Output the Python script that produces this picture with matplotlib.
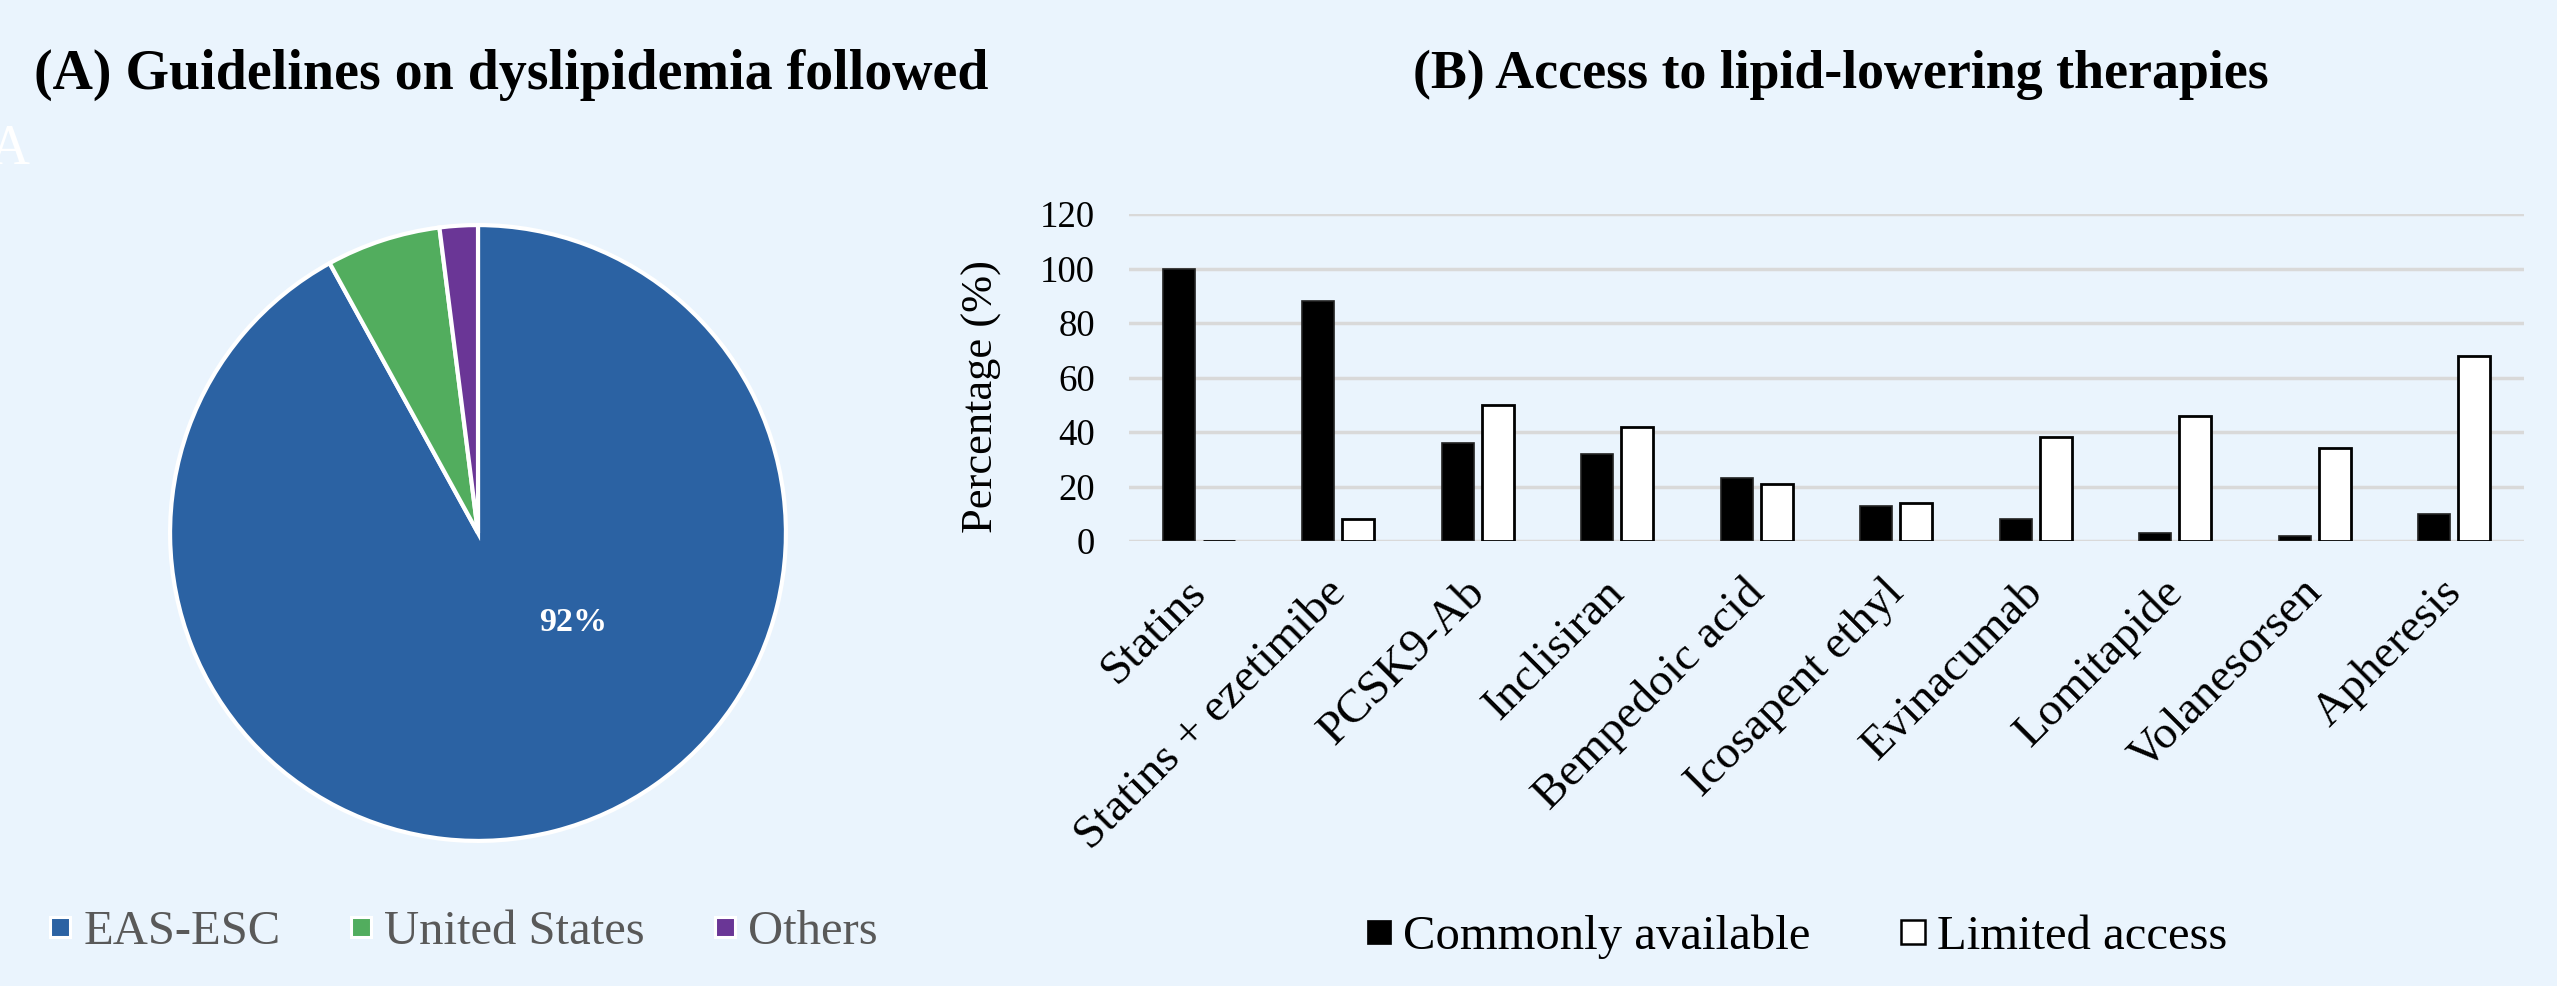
import matplotlib
matplotlib.use("Agg")
import matplotlib.pyplot as plt
import matplotlib.transforms as mtransforms
import numpy as np
from matplotlib.lines import Line2D

plt.rcParams['font.family'] = ['Liberation Serif', 'DejaVu Serif']

# ---- data ----
pie_labels = ["EAS-ESC", "United States", "Others"]
pie_values = [92, 6, 2]
pie_colors = ["#2b62a3", "#52ad5e", "#6a3696"]

therapies = ["Statins", "Statins + ezetimibe", "PCSK9-Ab", "Inclisiran",
             "Bempedoic acid", "Icosapent ethyl", "Evinacumab", "Lomitapide",
             "Volanesorsen", "Apheresis"]
commonly_available = [100, 88, 36, 32, 23, 13, 8, 3, 2, 10]
limited_access = [0, 8, 50, 42, 21, 14, 38, 46, 34, 68]
yticks = [0, 20, 40, 60, 80, 100, 120]

BG = "#eaf4fd"
W, H = 2557, 986
fig = plt.figure(figsize=(W / 100, H / 100), dpi=100, facecolor=BG)

# ---- (A) pie ----
cx, cy, r = 478, 533, 311
axp = fig.add_axes([(cx - r) / W, (H - cy - r) / H, 2 * r / W, 2 * r / H])
axp.set_facecolor(BG)
wedges, _ = axp.pie(pie_values, colors=pie_colors, startangle=90, counterclock=False,
                    radius=1, wedgeprops=dict(edgecolor="white", linewidth=3))
axp.set_xlim(-1.01, 1.01)
axp.set_ylim(-1.01, 1.01)
axp.set_aspect("equal")
axp.text(0.31, -0.29, f"{pie_values[0]}%", color="white", fontsize=24.5,
         fontweight="bold", ha="center", va="center")

fig.text(511 / W, 1 - 75 / H, "(A) Guidelines on dyslipidemia followed",
         fontsize=40.2, fontweight="bold", ha="center", va="center")
fig.text(-0.004, 1 - 150 / H, "A", color="white", fontsize=40, ha="left", va="center")

pie_handles = [Line2D([], [], linestyle="none", marker="s", markersize=15,
                      markerfacecolor=c, markeredgecolor="white", markeredgewidth=2.2)
               for c in pie_colors]
fig.legend(handles=pie_handles, labels=pie_labels, loc="center left",
           bbox_to_anchor=(48 / W, 1 - 932 / H), ncol=3, frameon=False,
           fontsize=35, handlelength=0.5, handletextpad=0.23,
           columnspacing=1.4, labelcolor="#595959", borderpad=0, borderaxespad=0)

# ---- (B) bars ----
left, right, top, bottom = 1129, 2524, 214, 541
axb = fig.add_axes([left / W, (H - bottom) / H, (right - left) / W, (bottom - top) / H])
axb.set_facecolor(BG)
x = np.arange(len(therapies))
bw = 0.23
off = 0.143
axb.bar(x - off, commonly_available, bw, color="black", edgecolor="#222222",
        linewidth=1.2, zorder=3, label="Commonly available")
axb.bar(x + off, limited_access, bw, color="white", edgecolor="black",
        linewidth=2, zorder=3, label="Limited access")
axb.set_ylim(0, 120)
axb.set_xlim(-0.5, len(therapies) - 0.5)
axb.set_yticks(yticks)
axb.yaxis.grid(True, color="#d9d9d9", linewidth=2.5, zorder=0)
axb.set_axisbelow(True)
for s in axb.spines.values():
    s.set_visible(False)
axb.tick_params(axis="y", length=0, labelsize=26.5, pad=24.5)
axb.tick_params(axis="x", length=0, labelsize=34, pad=32.5)
axb.set_xticks(x)
axb.set_xticklabels(therapies, rotation=45, ha="right", va="center",
                    rotation_mode="anchor")
shift = mtransforms.ScaledTranslation(1 / 100, 0, fig.dpi_scale_trans)
for lab in axb.get_xticklabels():
    lab.set_transform(lab.get_transform() + shift)
axb.set_ylabel("Percentage (%)", fontsize=32)
axb.yaxis.set_label_coords(-0.091, 0.443)

fig.text(1841 / W, 1 - 75 / H, "(B) Access to lipid-lowering therapies",
         fontsize=38.8, fontweight="bold", ha="center", va="center")

bar_handles = [Line2D([], [], linestyle="none", marker="s", markersize=17.3,
                      markerfacecolor="black", markeredgecolor="black", markeredgewidth=0.5),
               Line2D([], [], linestyle="none", marker="s", markersize=17.3,
                      markerfacecolor="white", markeredgecolor="black", markeredgewidth=1.8)]
fig.legend(handles=bar_handles, labels=["Commonly available", "Limited access"],
           loc="center left", bbox_to_anchor=(1367 / W, 1 - 937 / H), ncol=2,
           frameon=False, fontsize=35, handlelength=0.5, handletextpad=0.25,
           columnspacing=1.85, borderpad=0, borderaxespad=0)

fig.savefig("out.png", dpi=100, facecolor=BG)
